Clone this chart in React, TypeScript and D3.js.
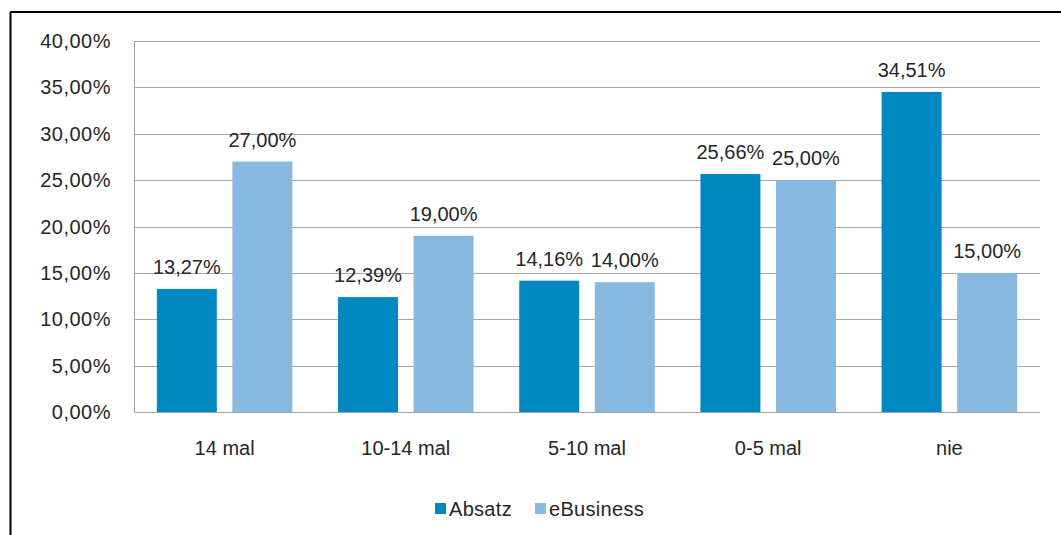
import React from "react";
import * as d3 from "d3";

const categories = ["14 mal", "10-14 mal", "5-10 mal", "0-5 mal", "nie"];
const absatz = [13.27, 12.39, 14.16, 25.66, 34.51];
const ebusiness = [27.0, 19.0, 14.0, 25.0, 15.0];
const seriesNames = ["Absatz", "eBusiness"];
const yTicks = [0, 5, 10, 15, 20, 25, 30, 35, 40];

const colors = ["#0089C0", "#88B9E0"];
const fmt = (v: number) => v.toFixed(2).replace(".", ",") + "%";

export default function App() {
  const W = 1061, H = 535;
  const left = 134, right = 1040, top = 41, bottom = 412;
  const x0 = d3.scaleBand<string>().domain(categories).range([left, right]).paddingInner(0.252).paddingOuter(0.126);
  const x1 = d3.scaleBand<string>().domain(seriesNames).range([0, x0.bandwidth()]).paddingInner(0.206);
  const y = d3.scaleLinear().domain([0, 40]).range([bottom, top]);
  const data = [absatz, ebusiness];
  const font = "Liberation Sans, Arial, sans-serif";
  const tc = "#262626";
  return (
    <svg width={W} height={H} style={{ position: "absolute", left: 0, top: 0 }} fontFamily={font}>
      <rect x={0} y={0} width={W} height={H} fill="#fff" />
      <line x1={10.5} y1={12} x2={10.5} y2={H} stroke="#000" strokeWidth={2} />
      <line x1={10} y1={12} x2={W} y2={12} stroke="#000" strokeWidth={2} />
      {yTicks.map((t) => (
        <g key={t}>
          <line x1={left} x2={right} y1={Math.round(y(t)) + 0.5} y2={Math.round(y(t)) + 0.5} stroke="#a6a6a6" strokeWidth={1} />
          <text x={111} y={y(t) + 7} textAnchor="end" fontSize={20} letterSpacing={0.5} fill={tc}>{fmt(t)}</text>
        </g>
      ))}
      <line x1={left + 0.5} x2={left + 0.5} y1={top} y2={bottom} stroke="#a6a6a6" />
      {categories.map((c, i) => (
        <g key={c}>
          {data.map((s, j) => {
            const bx = (x0(c) as number) + (x1(seriesNames[j]) as number);
            const bw = x1.bandwidth();
            return (
              <g key={j}>
                <rect x={bx} y={y(s[i])} width={bw} height={y(0) - y(s[i])} fill={colors[j]} />
                <text x={bx + bw / 2} y={y(s[i]) - 15} textAnchor="middle" fontSize={20} fill={tc}>{fmt(s[i])}</text>
              </g>
            );
          })}
          <text x={(x0(c) as number) + x0.bandwidth() / 2} y={455} textAnchor="middle" fontSize={20} fill={tc}>{c}</text>
        </g>
      ))}
      {seriesNames.map((n, j) => {
        const lx = j === 0 ? 435 : 535;
        return (
          <g key={n}>
            <rect x={lx} y={503} width={11} height={11} fill={colors[j]} />
            <text x={lx + 14} y={516} fontSize={20} letterSpacing={0.3} fill={tc}>{n}</text>
          </g>
        );
      })}
    </svg>
  );
}
